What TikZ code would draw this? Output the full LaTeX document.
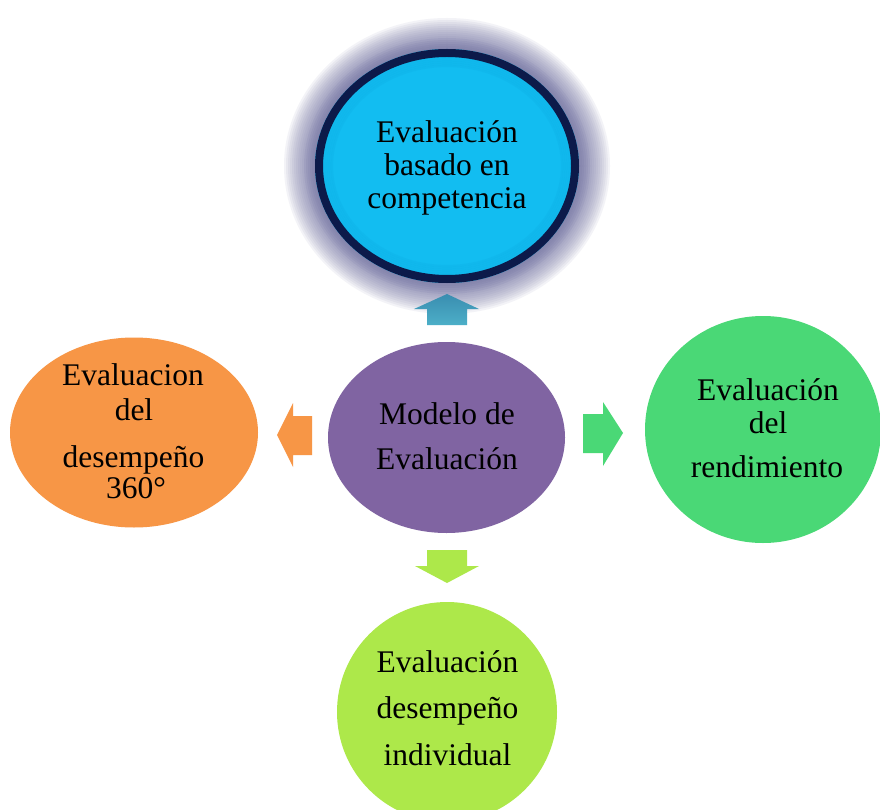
\documentclass[tikz,border=0pt]{standalone}
\usepackage{fontspec}
\setmainfont{Liberation Serif}
\usetikzlibrary{shapes.geometric}
\definecolor{cyanfill}{HTML}{12BDF1}
\definecolor{cyanedge}{HTML}{0590CC}
\definecolor{navy}{HTML}{0C1A4A}
\definecolor{haze}{RGB}{118,118,165}
\definecolor{purplefill}{HTML}{8064A2}
\definecolor{orangefill}{HTML}{F79646}
\definecolor{greenfill}{HTML}{4AD876}
\definecolor{limefill}{HTML}{ADE84A}
\definecolor{tealtop}{HTML}{3A8DB0}
\definecolor{tealbot}{HTML}{4CAFC8}
\begin{document}
\begin{tikzpicture}[x=1pt,y=-1pt,
  bubble/.style={ellipse, draw=none, inner sep=0pt, text width=0pt},
  txt/.style={anchor=base, inner sep=0pt, font=\fontsize{31.5}{36}\selectfont},
  glow/.style={fill=haze, fill opacity=0.085, draw=none}]
\useasboundingbox (0,0) rectangle (880,810);
\fill[white] (0,0) rectangle (880,810);

% soft halo around the top bubble
\foreach \d in {32,30,...,2}
  \fill[glow] (447,166) ellipse [x radius={(131+\d)*1pt}, y radius={(116+\d)*1pt}];
\foreach \d in {12,10,...,2}
  \fill[glow] (447,166) ellipse [x radius={(131+\d)*1pt}, y radius={(116+\d)*1pt}];

% bubbles
\node[bubble, fill=cyanfill, minimum width=264pt, minimum height=234pt] (top) at (447,166) {};
% inner shadow along the rim of the top bubble
\foreach \d in {0,2,...,10}
  \draw[cyanedge, line width=2.2pt, draw opacity=0.09]
    (top.center) ellipse [x radius={(125-\d)*1pt}, y radius={(110-\d)*1pt}];
\draw[navy, line width=8pt] (top.center) ellipse [x radius=128pt, y radius=113pt];

\node[bubble, fill=purplefill, minimum width=237pt, minimum height=191pt] (mid) at (446.5,437.5) {};
\node[bubble, fill=orangefill, minimum width=248pt, minimum height=190pt] (left) at (134,432.5) {};
\node[bubble, fill=greenfill, minimum width=236pt, minimum height=227pt] (right) at (763,429.5) {};
\node[bubble, fill=limefill, minimum width=220pt, minimum height=220pt] (bottom) at (447,712) {};

% block arrows from the centre bubble
\shade[top color=tealtop, bottom color=tealbot]
  (447,294) -- (479,309) -- (467,309) -- (467,325) -- (427,325) -- (427,309) -- (414,309) -- cycle;
\fill[orangefill]
  (277,435) -- (293,403) -- (293,416) -- (312,416) -- (312,455) -- (293,455) -- (293,467) -- cycle;
\fill[greenfill]
  (623,433) -- (603,402) -- (603,414) -- (583,414) -- (583,453) -- (603,453) -- (603,466) -- cycle;
\fill[limefill]
  (447,583) -- (479,566) -- (467,566) -- (467,550) -- (427,550) -- (427,566) -- (415,566) -- cycle;

% labels
\node[txt] (top1) at (447,143) {Evaluación};
\node[txt] (top2) at (447,176) {basado en};
\node[txt] (top3) at (447,209) {competencia};

\node[txt] (mid1) at (447,424) {Modelo de};
\node[txt] (mid2) at (447,469) {Evaluación};

\node[txt] (left1) at (133,385) {Evaluacion};
\node[txt] (left2) at (134,420) {del};
\node[txt] (left3) at (133.5,467) {desempeño};
\node[txt] (left4) at (136,498) {360°};

\node[txt] (right1) at (768,400) {Evaluación};
\node[txt] (right2) at (768,433) {del};
\node[txt] (right3) at (767,477) {rendimiento};

\node[txt] (bot1) at (447.5,672) {Evaluación};
\node[txt] (bot2) at (447.5,718) {desempeño};
\node[txt] (bot3) at (447.5,765) {individual};
\end{tikzpicture}
\end{document}
